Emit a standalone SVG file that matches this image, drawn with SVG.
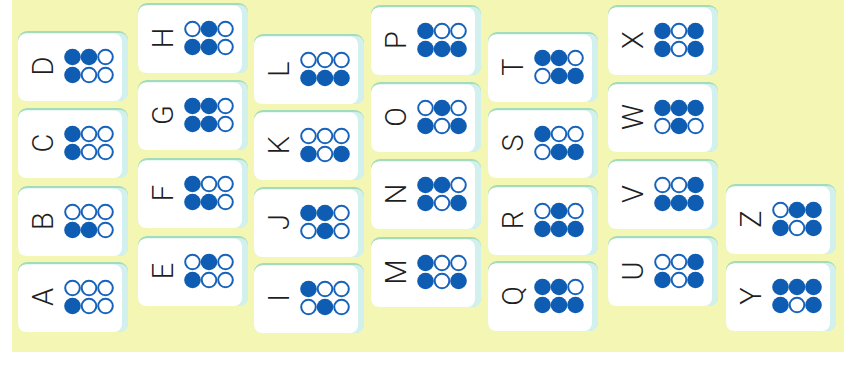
<svg xmlns="http://www.w3.org/2000/svg" xmlns:xlink="http://www.w3.org/1999/xlink" width="844" height="367" viewBox="0 0 844 367">
<style>
.bg{fill:#f3f7b3}
.edge{fill:#a3dcbc}
.side{fill:#d2f1ee}
.face{fill:#ffffff}
.f{fill:#0f5db3}
.o{fill:#ffffff;stroke:#1763bb;stroke-width:2}
text{font-family:Roboto,"Liberation Sans",sans-serif;font-weight:300;font-size:29px;fill:#1f1f1f;text-anchor:middle}
</style>
<defs>
<g id="tile"><rect class="edge" x="0" y="0" width="110" height="70" rx="9"/><rect class="side" x="2" y="2" width="108" height="68" rx="8"/><rect class="face" x="0" y="2.5" width="104" height="67.5" rx="8"/></g>
<circle id="f" class="f" r="8.3"/>
<circle id="o" class="o" r="7.3"/>
</defs>
<rect width="844" height="367" fill="#ffffff"/>
<rect class="bg" x="12" y="0" width="832" height="352"/>
<g id="D" transform="translate(18,31)"><use href="#tile"/><text transform="translate(25,35) rotate(-90)" y="10.3">D</text><use href="#f" x="54.5" y="26"/><use href="#f" x="71" y="26"/><use href="#o" x="87.5" y="26"/><use href="#f" x="54.5" y="44"/><use href="#o" x="71" y="44"/><use href="#o" x="87.5" y="44"/></g>
<g id="C" transform="translate(18,108)"><use href="#tile"/><text transform="translate(25,35) rotate(-90)" y="10.3">C</text><use href="#f" x="54.5" y="26"/><use href="#o" x="71" y="26"/><use href="#o" x="87.5" y="26"/><use href="#f" x="54.5" y="44"/><use href="#o" x="71" y="44"/><use href="#o" x="87.5" y="44"/></g>
<g id="B" transform="translate(18,186)"><use href="#tile"/><text transform="translate(25,35) rotate(-90)" y="10.3">B</text><use href="#o" x="54.5" y="26"/><use href="#o" x="71" y="26"/><use href="#o" x="87.5" y="26"/><use href="#f" x="54.5" y="44"/><use href="#f" x="71" y="44"/><use href="#o" x="87.5" y="44"/></g>
<g id="A" transform="translate(18,262)"><use href="#tile"/><text transform="translate(25,35) rotate(-90)" y="10.3">A</text><use href="#o" x="54.5" y="26"/><use href="#o" x="71" y="26"/><use href="#o" x="87.5" y="26"/><use href="#f" x="54.5" y="44"/><use href="#o" x="71" y="44"/><use href="#o" x="87.5" y="44"/></g>
<g id="H" transform="translate(138,3)"><use href="#tile"/><text transform="translate(25,35) rotate(-90)" y="10.3">H</text><use href="#o" x="54.5" y="26"/><use href="#f" x="71" y="26"/><use href="#o" x="87.5" y="26"/><use href="#f" x="54.5" y="44"/><use href="#f" x="71" y="44"/><use href="#o" x="87.5" y="44"/></g>
<g id="G" transform="translate(138,80)"><use href="#tile"/><text transform="translate(25,35) rotate(-90)" y="10.3">G</text><use href="#f" x="54.5" y="26"/><use href="#f" x="71" y="26"/><use href="#o" x="87.5" y="26"/><use href="#f" x="54.5" y="44"/><use href="#f" x="71" y="44"/><use href="#o" x="87.5" y="44"/></g>
<g id="F" transform="translate(138,158)"><use href="#tile"/><text transform="translate(25,35) rotate(-90)" y="10.3">F</text><use href="#f" x="54.5" y="26"/><use href="#o" x="71" y="26"/><use href="#o" x="87.5" y="26"/><use href="#f" x="54.5" y="44"/><use href="#f" x="71" y="44"/><use href="#o" x="87.5" y="44"/></g>
<g id="E" transform="translate(138,236)"><use href="#tile"/><text transform="translate(25,35) rotate(-90)" y="10.3">E</text><use href="#o" x="54.5" y="26"/><use href="#f" x="71" y="26"/><use href="#o" x="87.5" y="26"/><use href="#f" x="54.5" y="44"/><use href="#o" x="71" y="44"/><use href="#o" x="87.5" y="44"/></g>
<g id="L" transform="translate(254,34)"><use href="#tile"/><text transform="translate(25,35) rotate(-90)" y="10.3">L</text><use href="#o" x="54.5" y="26"/><use href="#o" x="71" y="26"/><use href="#o" x="87.5" y="26"/><use href="#f" x="54.5" y="44"/><use href="#f" x="71" y="44"/><use href="#f" x="87.5" y="44"/></g>
<g id="K" transform="translate(254,110)"><use href="#tile"/><text transform="translate(25,35) rotate(-90)" y="10.3">K</text><use href="#o" x="54.5" y="26"/><use href="#o" x="71" y="26"/><use href="#o" x="87.5" y="26"/><use href="#f" x="54.5" y="44"/><use href="#o" x="71" y="44"/><use href="#f" x="87.5" y="44"/></g>
<g id="J" transform="translate(254,187)"><use href="#tile"/><text transform="translate(25,35) rotate(-90)" y="10.3">J</text><use href="#f" x="54.5" y="26"/><use href="#f" x="71" y="26"/><use href="#o" x="87.5" y="26"/><use href="#o" x="54.5" y="44"/><use href="#f" x="71" y="44"/><use href="#o" x="87.5" y="44"/></g>
<g id="I" transform="translate(254,263)"><use href="#tile"/><text transform="translate(25,35) rotate(-90)" y="10.3">I</text><use href="#f" x="54.5" y="26"/><use href="#o" x="71" y="26"/><use href="#o" x="87.5" y="26"/><use href="#o" x="54.5" y="44"/><use href="#f" x="71" y="44"/><use href="#o" x="87.5" y="44"/></g>
<g id="P" transform="translate(371,5)"><use href="#tile"/><text transform="translate(25,35) rotate(-90)" y="10.3">P</text><use href="#f" x="54.5" y="26"/><use href="#o" x="71" y="26"/><use href="#o" x="87.5" y="26"/><use href="#f" x="54.5" y="44"/><use href="#f" x="71" y="44"/><use href="#f" x="87.5" y="44"/></g>
<g id="O" transform="translate(371,82)"><use href="#tile"/><text transform="translate(25,35) rotate(-90)" y="10.3">O</text><use href="#o" x="54.5" y="26"/><use href="#f" x="71" y="26"/><use href="#o" x="87.5" y="26"/><use href="#f" x="54.5" y="44"/><use href="#o" x="71" y="44"/><use href="#f" x="87.5" y="44"/></g>
<g id="N" transform="translate(371,159)"><use href="#tile"/><text transform="translate(25,35) rotate(-90)" y="10.3">N</text><use href="#f" x="54.5" y="26"/><use href="#f" x="71" y="26"/><use href="#o" x="87.5" y="26"/><use href="#f" x="54.5" y="44"/><use href="#o" x="71" y="44"/><use href="#f" x="87.5" y="44"/></g>
<g id="M" transform="translate(371,237)"><use href="#tile"/><text transform="translate(25,35) rotate(-90)" y="10.3">M</text><use href="#f" x="54.5" y="26"/><use href="#o" x="71" y="26"/><use href="#o" x="87.5" y="26"/><use href="#f" x="54.5" y="44"/><use href="#o" x="71" y="44"/><use href="#f" x="87.5" y="44"/></g>
<g id="T" transform="translate(488,32)"><use href="#tile"/><text transform="translate(25,35) rotate(-90)" y="10.3">T</text><use href="#f" x="54.5" y="26"/><use href="#f" x="71" y="26"/><use href="#o" x="87.5" y="26"/><use href="#o" x="54.5" y="44"/><use href="#f" x="71" y="44"/><use href="#f" x="87.5" y="44"/></g>
<g id="S" transform="translate(488,108)"><use href="#tile"/><text transform="translate(25,35) rotate(-90)" y="10.3">S</text><use href="#f" x="54.5" y="26"/><use href="#o" x="71" y="26"/><use href="#o" x="87.5" y="26"/><use href="#o" x="54.5" y="44"/><use href="#f" x="71" y="44"/><use href="#f" x="87.5" y="44"/></g>
<g id="R" transform="translate(488,185)"><use href="#tile"/><text transform="translate(25,35) rotate(-90)" y="10.3">R</text><use href="#o" x="54.5" y="26"/><use href="#f" x="71" y="26"/><use href="#o" x="87.5" y="26"/><use href="#f" x="54.5" y="44"/><use href="#f" x="71" y="44"/><use href="#f" x="87.5" y="44"/></g>
<g id="Q" transform="translate(488,261)"><use href="#tile"/><text transform="translate(25,35) rotate(-90)" y="10.3">Q</text><use href="#f" x="54.5" y="26"/><use href="#f" x="71" y="26"/><use href="#o" x="87.5" y="26"/><use href="#f" x="54.5" y="44"/><use href="#f" x="71" y="44"/><use href="#f" x="87.5" y="44"/></g>
<g id="X" transform="translate(608,5)"><use href="#tile"/><text transform="translate(25,35) rotate(-90)" y="10.3">X</text><use href="#f" x="54.5" y="26"/><use href="#o" x="71" y="26"/><use href="#f" x="87.5" y="26"/><use href="#f" x="54.5" y="44"/><use href="#o" x="71" y="44"/><use href="#f" x="87.5" y="44"/></g>
<g id="W" transform="translate(608,82)"><use href="#tile"/><text transform="translate(25,35) rotate(-90)" y="10.3">W</text><use href="#f" x="54.5" y="26"/><use href="#f" x="71" y="26"/><use href="#f" x="87.5" y="26"/><use href="#o" x="54.5" y="44"/><use href="#f" x="71" y="44"/><use href="#o" x="87.5" y="44"/></g>
<g id="V" transform="translate(608,159)"><use href="#tile"/><text transform="translate(25,35) rotate(-90)" y="10.3">V</text><use href="#o" x="54.5" y="26"/><use href="#o" x="71" y="26"/><use href="#f" x="87.5" y="26"/><use href="#f" x="54.5" y="44"/><use href="#f" x="71" y="44"/><use href="#f" x="87.5" y="44"/></g>
<g id="U" transform="translate(608,236)"><use href="#tile"/><text transform="translate(25,35) rotate(-90)" y="10.3">U</text><use href="#o" x="54.5" y="26"/><use href="#o" x="71" y="26"/><use href="#f" x="87.5" y="26"/><use href="#f" x="54.5" y="44"/><use href="#o" x="71" y="44"/><use href="#f" x="87.5" y="44"/></g>
<g id="Z" transform="translate(726,184)"><use href="#tile"/><text transform="translate(25,35) rotate(-90)" y="10.3">Z</text><use href="#o" x="54.5" y="26"/><use href="#f" x="71" y="26"/><use href="#f" x="87.5" y="26"/><use href="#f" x="54.5" y="44"/><use href="#o" x="71" y="44"/><use href="#f" x="87.5" y="44"/></g>
<g id="Y" transform="translate(726,261)"><use href="#tile"/><text transform="translate(25,35) rotate(-90)" y="10.3">Y</text><use href="#f" x="54.5" y="26"/><use href="#f" x="71" y="26"/><use href="#f" x="87.5" y="26"/><use href="#f" x="54.5" y="44"/><use href="#o" x="71" y="44"/><use href="#f" x="87.5" y="44"/></g>
</svg>
